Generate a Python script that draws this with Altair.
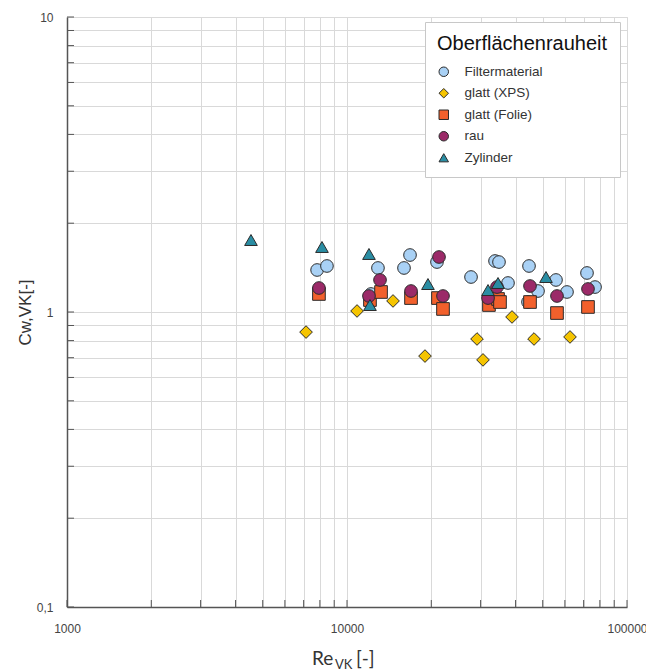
import altair as alt
import pandas as pd

# Drag coefficient Cw,VK over Reynolds number Re_VK, grouped by surface roughness
series_names = ["Filtermaterial", "glatt (XPS)", "glatt (Folie)", "rau", "Zylinder"]

filter_re = [7820, 8480, 12180, 12900, 15980, 16790, 20960, 27730, 33780, 34900,
             37580, 44300, 44670, 48100, 55770, 61050, 71970, 76880]
filter_cw = [1.388, 1.432, 1.151, 1.410, 1.410, 1.560, 1.477, 1.314, 1.489, 1.477,
             1.254, 1.081, 1.432, 1.178, 1.284, 1.169, 1.356, 1.215]

xps_re = [7140, 10860, 14600, 18990, 29130, 30600, 38850, 46550, 62580]
xps_cw = [0.855, 1.008, 1.090, 0.709, 0.810, 0.688, 0.962, 0.810, 0.823]

folie_re = [7940, 12080, 13230, 16930, 21130, 22020, 32140, 34620, 35190, 45040,
            56230, 72560]
folie_cw = [1.151, 1.098, 1.169, 1.115, 1.115, 1.024, 1.056, 1.107, 1.081, 1.081,
            0.992, 1.040]

rau_re = [7940, 11980, 13120, 16930, 21310, 22020, 31890, 34330, 45040, 56230, 72560]
rau_cw = [1.206, 1.133, 1.284, 1.178, 1.536, 1.133, 1.115, 1.215, 1.225, 1.133, 1.197]

zyl_re = [4540, 8140, 11980, 12080, 19460, 31890, 34620, 51370]
zyl_cw = [1.754, 1.661, 1.573, 1.056, 1.244, 1.187, 1.254, 1.314]

# Log-axis tick positions (decades plus 2..9 subdivisions)
x_ticks = [1000, 2000, 3000, 4000, 5000, 6000, 7000, 8000, 9000,
           10000, 20000, 30000, 40000, 50000, 60000, 70000, 80000, 90000, 100000]
y_ticks = [0.1, 0.2, 0.3, 0.4, 0.5, 0.6, 0.7, 0.8, 0.9,
           1, 2, 3, 4, 5, 6, 7, 8, 9, 10]

fills = ["#a9d1f5", "#f5c400", "#f2602c", "#9b2a68", "#2a8da3"]
shapes = ["circle", "diamond", "square", "circle", "triangle-up"]

rows = []
for name, xs, ys in zip(series_names,
                        [filter_re, xps_re, folie_re, rau_re, zyl_re],
                        [filter_cw, xps_cw, folie_cw, rau_cw, zyl_cw]):
    for xv, yv in zip(xs, ys):
        rows.append({"Serie": name, "Re": xv, "Cw": yv})
points_df = pd.DataFrame(rows)

x_scale = alt.Scale(type="log", domain=[1000, 100000], nice=False)
y_scale = alt.Scale(type="log", domain=[0.1, 10], nice=False)

x_axis = alt.Axis(
    values=x_ticks, title=None, grid=True, ticks=False,
    labelExpr="indexof([1000, 10000, 100000], datum.value) >= 0 ? '' + datum.value : ''",
    labelPadding=16, labelFontSize=12, labelColor="#444", labelFont="Liberation Sans",
    domainColor="#555", domainWidth=1.5, gridColor="#d9d9d9", labelFlush=False,
    labelOverlap=False,
)
y_axis = alt.Axis(
    values=y_ticks, title="Cw,VK[-]", grid=True, ticks=False,
    labelExpr="datum.value == 10 ? '10' : datum.value == 1 ? '1' : datum.value == 0.1 ? '0,1' : ''",
    labelPadding=14, labelFontSize=12, labelColor="#444", labelFont="Liberation Sans",
    domainColor="#555", domainWidth=1.5, gridColor="#d9d9d9", labelOverlap=False,
    titleFont="Liberation Sans", titleFontSize=17, titleFontWeight="normal",
    titleColor="#333", titleX=-42, titleY=295, titleAngle=270,
    titleAlign="center", titleBaseline="middle",
)

legend = alt.Legend(
    title="Oberflächenrauheit", orient="none", legendX=358, legendY=5,
    fillColor="white", strokeColor="#c8c8c8", padding=12,
    titleFont="Liberation Sans", titleFontSize=20, titleFontWeight="normal",
    titleColor="#111", titlePadding=11,
    labelFont="Liberation Sans", labelFontSize=13.5, labelColor="#333",
    symbolSize=90, symbolStrokeColor="#2b2b2b", symbolStrokeWidth=1,
    rowPadding=6.5, labelOffset=14,
)

points = alt.Chart(points_df).mark_point(
    filled=True, opacity=1, stroke="#2b2b2b", strokeWidth=1, size=160
).encode(
    x=alt.X("Re:Q", scale=x_scale, axis=x_axis),
    y=alt.Y("Cw:Q", scale=y_scale, axis=y_axis),
    color=alt.Color("Serie:N", scale=alt.Scale(domain=series_names, range=fills),
                    legend=legend),
    shape=alt.Shape("Serie:N", scale=alt.Scale(domain=series_names, range=shapes),
                    legend=legend),
)

# Inward-pointing tick marks along both axes
x_tick_df = pd.DataFrame({"Re": x_ticks})
y_tick_df = pd.DataFrame({"Cw": y_ticks})

x_tick_marks = alt.Chart(x_tick_df).mark_rule(color="#555", strokeWidth=1).encode(
    x=alt.X("Re:Q", scale=x_scale, axis=x_axis),
    y=alt.value(590), y2=alt.value(583),
)
y_tick_marks = alt.Chart(y_tick_df).mark_rule(color="#555", strokeWidth=1).encode(
    y=alt.Y("Cw:Q", scale=y_scale, axis=y_axis),
    x=alt.value(0), x2=alt.value(7),
)

# x-axis title with subscript
title_re = alt.Chart(pd.DataFrame({"t": ["Re"]})).mark_text(
    font="Lato", fontSize=19, color="#333", align="left", baseline="alphabetic"
).encode(text="t:N", x=alt.value(245), y=alt.value(648))
title_vk = alt.Chart(pd.DataFrame({"t": ["VK"]})).mark_text(
    font="Lato", fontSize=13, color="#333", align="left", baseline="alphabetic"
).encode(text="t:N", x=alt.value(268), y=alt.value(652))
title_unit = alt.Chart(pd.DataFrame({"t": ["[-]"]})).mark_text(
    font="Lato", fontSize=19, color="#333", align="left", baseline="alphabetic"
).encode(text="t:N", x=alt.value(289), y=alt.value(648))

chart = alt.layer(
    x_tick_marks, y_tick_marks, points, title_re, title_vk, title_unit
).properties(
    width=560, height=590,
    padding={"left": 67, "top": 17, "right": 19, "bottom": 65},
    autosize=alt.AutoSizeParams(type="none"),
).configure_view(
    stroke=None
).configure(background="white")

chart.save("out.html", embed_options={"renderer": "svg", "actions": False})
